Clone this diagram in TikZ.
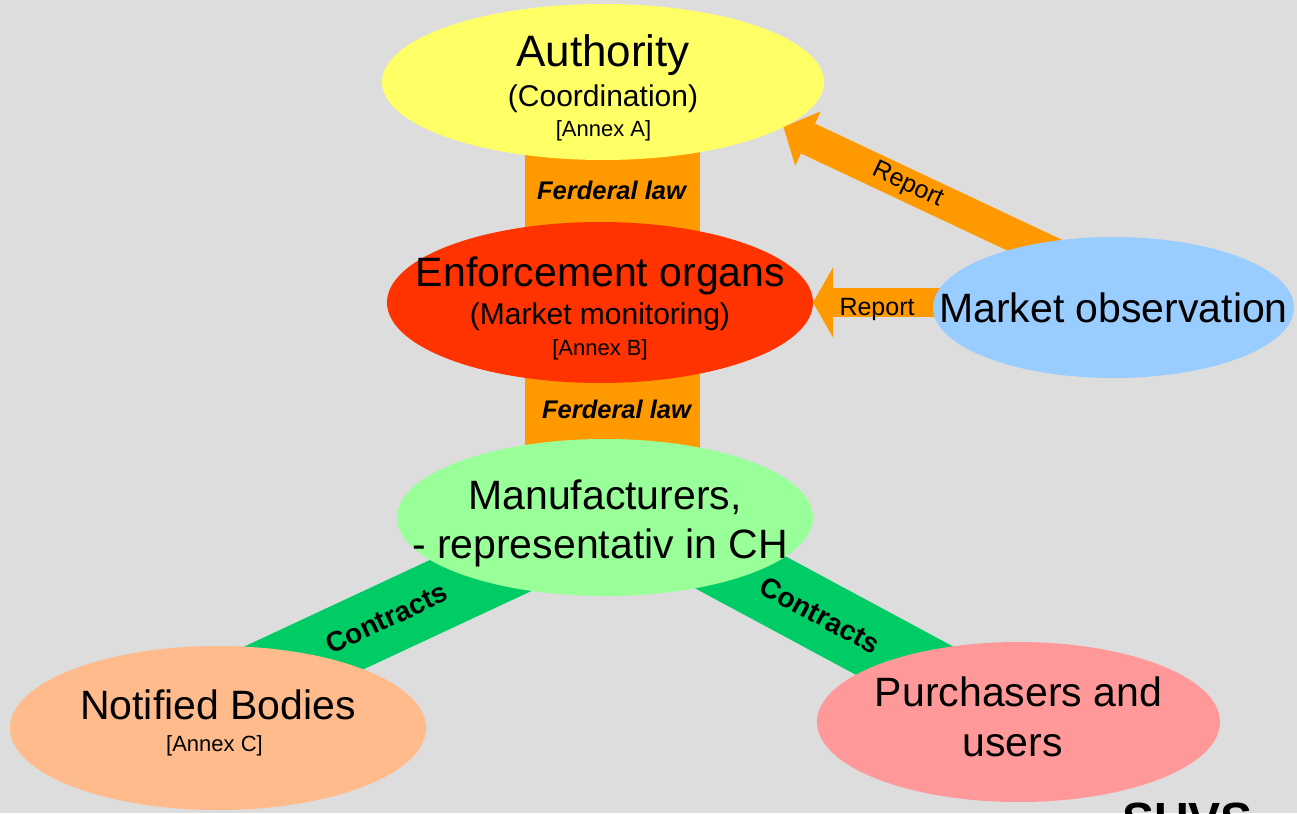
\documentclass[tikz,border=0pt]{standalone}
\usepackage{fontspec}
\setmainfont{Liberation Sans}
\usetikzlibrary{shapes.geometric,arrows.meta,calc}
\definecolor{bgc}{HTML}{DDDDDD}
\definecolor{orng}{HTML}{FF9900}
\definecolor{yel}{HTML}{FFFF66}
\definecolor{redc}{HTML}{FF3300}
\definecolor{lblue}{HTML}{99CCFF}
\definecolor{lgreen}{HTML}{99FF99}
\definecolor{gband}{HTML}{00CC66}
\definecolor{peach}{HTML}{FFBB8C}
\definecolor{pinkc}{HTML}{FF9999}
\begin{document}
\begin{tikzpicture}[x=1pt,y=-1pt,
  blob/.style={ellipse, inner sep=0pt, outer sep=0pt, draw=none},
  fs/.style={font=\fontsize{#1}{#1}\selectfont},
  lbl/.style={anchor=base, inner sep=0pt, text=black},
  bar/.style={fill=orng},
  band/.style={draw=gband, line width=71pt},
  contr/.style={inner sep=0pt, text=black, font=\bfseries\fontsize{28}{28}\selectfont},
  fedlaw/.style={lbl, font=\bfseries\itshape\fontsize{25.5}{25.5}\selectfont},
  reparrow/.style={draw=orng},
  reptext/.style={inner sep=0pt, text=black, font=\fontsize{25}{25}\selectfont}]
\useasboundingbox (0,0) rectangle (1297,813);
\clip (0,0) rectangle (1297,813);
\fill[bgc] (0,0) rectangle (1297,813);

% ellipse positions (nodes placed first, drawn later via fill)
\path
  node[blob, minimum width=442pt, minimum height=156pt] (auth) at (603,82) {}
  node[blob, minimum width=426pt, minimum height=161pt] (enf) at (600,302.5) {}
  node[blob, minimum width=361pt, minimum height=141pt] (mo) at (1113.5,307.5) {}
  node[blob, minimum width=416pt, minimum height=157pt] (mf) at (605,517.5) {}
  node[blob, minimum width=416pt, minimum height=164pt] (nb) at (218,728) {}
  node[blob, minimum width=403pt, minimum height=160pt] (pu) at (1018.5,722) {};

% orange bars
\fill[bar] ($(auth.center)+(-78,0)$) rectangle ($(enf.center)+(100,0)$);
\fill[bar] ($(enf.center)+(-75,0)$) rectangle ($(mf.center)+(95,0)$);

% green contract bands
\draw[band] ($(nb.center)+(0,-30)$) -- (mf.center)
  node[pos=0.437, sloped, contr, yshift=1pt] (c1) {Contracts};
\draw[band] ($(mf.center)+(0,-18)$) -- (pu.center)
  node[pos=0.52, sloped, contr] (c2) {Contracts};

% report arrows
\draw[reparrow, line width=33pt, -{Triangle[length=27pt,width=60pt,line width=0pt]}]
  ($(mo.center)+(-33.5,-41)$) -- (auth.-14.2)
  node[pos=0.582, sloped, reptext] (r1) {Report};
\draw[reparrow, line width=29pt, -{Triangle[length=20pt,width=70pt,line width=0pt]}]
  ($(mo.west |- enf.east)+(30,0)$) -- (enf.east)
  node[pos=0.573, reptext, anchor=base, yshift=-12.5pt] (r2) {Report};

% ellipses
\fill[yel] (auth.center) ellipse [x radius=221, y radius=78];
\fill[redc] (enf.center) ellipse [x radius=213, y radius=80.5];
\fill[lblue] (mo.center) ellipse [x radius=180.5, y radius=70.5];
\fill[lgreen] (mf.center) ellipse [x radius=208, y radius=78.5];
\fill[peach] (nb.center) ellipse [x radius=208, y radius=82];
\fill[pinkc] (pu.center) ellipse [x radius=201.5, y radius=80];

% Federal law labels
\node[fedlaw] (f1) at (611.5,200) {Ferderal law};
\node[fedlaw] (f2) at (616.5,418) {Ferderal law};

% texts
\node[lbl, fs=44] (t1) at ($(auth.center)+(0,-15)$) {Authority};
\node[lbl, fs=30] (t2) at ($(auth.center)+(0,25)$) {(Coordination)};
\node[lbl, fs=22] (t3) at ($(auth.center)+(0.5,55)$) {[Annex A]};

\node[lbl, fs=41] (t4) at ($(enf.center)+(0.5,-16.5)$) {Enforcement organs};
\node[lbl, fs=30] (t5) at ($(enf.center)+(0,21.5)$) {(Market monitoring)};
\node[lbl, fs=22] (t6) at ($(enf.center)+(0,52.5)$) {[Annex B]};

\node[lbl, fs=41] (t7) at ($(mo.center)+(0,14.5)$) {Market observation};

\node[lbl, fs=41] (t8) at ($(mf.center)+(0,-8.5)$) {Manufacturers,};
\node[lbl, fs=41] (t9) at ($(mf.center)+(-5,40.5)$) {- representativ in CH};

\node[lbl, fs=41] (t10) at ($(nb.center)+(0,-9)$) {Notified Bodies};
\node[lbl, fs=22] (t11) at ($(nb.center)+(-3.5,23)$) {[Annex C]};

\node[lbl, fs=41] (t12) at ($(pu.center)+(0,-16)$) {Purchasers and};
\node[lbl, fs=41] (t13) at ($(pu.center)+(-6,34)$) {users};

\node[lbl, font=\bfseries\fontsize{48}{48}\selectfont] (suvs) at (1187.5,836) {SUVS};
\end{tikzpicture}
\end{document}
